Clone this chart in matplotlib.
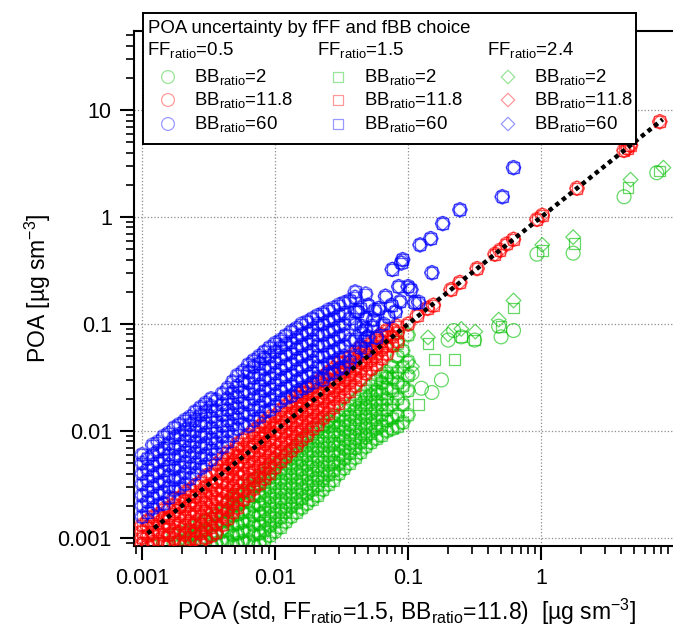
import matplotlib
matplotlib.use('Agg')
import matplotlib.pyplot as plt
from matplotlib.ticker import LogLocator, NullFormatter, FixedLocator, FixedFormatter

plt.rcParams['font.family'] = ['Liberation Sans', 'DejaVu Sans']
plt.rcParams['mathtext.fontset'] = 'custom'
plt.rcParams['mathtext.rm'] = 'Liberation Sans'
plt.rcParams['mathtext.it'] = 'Liberation Sans'
plt.rcParams['mathtext.default'] = 'regular'

# ---- data (x = standard POA, y = POA for each choice) ----
# BB_ratio = 60 (blue): dense band, one y list per x column
bb60_col_x = [0.0010, 0.0012, 0.00145, 0.00174, 0.0021, 0.0025, 0.0030, 0.0036, 0.0044, 0.0052, 0.0063,
              0.0076, 0.0091, 0.011, 0.0132, 0.0158, 0.019, 0.0229, 0.0275, 0.033, 0.040, 0.048]
bb60_col_y = [
    [0.00158, 0.0020, 0.0025, 0.0032, 0.0040, 0.0050, 0.0060],
    [0.0019, 0.0024, 0.0030, 0.0038, 0.0048, 0.0060, 0.0074],
    [0.0021, 0.0027, 0.0034, 0.0043, 0.0054, 0.0068, 0.0089],
    [0.0028, 0.0035, 0.0044, 0.0055, 0.0069, 0.0087, 0.0107],
    [0.0032, 0.0041, 0.0051, 0.0065, 0.0081, 0.0102, 0.0126],
    [0.0040, 0.0050, 0.0063, 0.0079, 0.0100, 0.0126, 0.0151],
    [0.0048, 0.0060, 0.0076, 0.0095, 0.0120, 0.0151, 0.0182],
    [0.0062, 0.0078, 0.0098, 0.0123, 0.0155, 0.0195],
    [0.0079, 0.0100, 0.0126, 0.0158, 0.0200, 0.0251],
    [0.0105, 0.0132, 0.0166, 0.0209, 0.0263, 0.0331],
    [0.0112, 0.0141, 0.0178, 0.0224, 0.0282, 0.0355, 0.0417],
    [0.0135, 0.0170, 0.0214, 0.0269, 0.0339, 0.0427, 0.0501],
    [0.0158, 0.0200, 0.0251, 0.0316, 0.0398, 0.0501, 0.0603],
    [0.0191, 0.0240, 0.0302, 0.0380, 0.0479, 0.0603, 0.0708],
    [0.0214, 0.0269, 0.0339, 0.0427, 0.0537, 0.0676, 0.0851],
    [0.0251, 0.0316, 0.0398, 0.0501, 0.0631, 0.0794, 0.100],
    [0.0282, 0.0355, 0.0447, 0.0562, 0.0708, 0.0891, 0.112],
    [0.0302, 0.0398, 0.0501, 0.0631, 0.0794, 0.100, 0.126],
    [0.0355, 0.0447, 0.0562, 0.0708, 0.0891, 0.112, 0.141],
    [0.0398, 0.0501, 0.0631, 0.0794, 0.100, 0.126, 0.158],
    [0.0501, 0.0708, 0.100, 0.132, 0.178, 0.200],
    [0.0562, 0.0891, 0.112, 0.191],
]
# BB_ratio = 60, in-between columns
bb60_mid_x = [0.0011, 0.00132, 0.00158, 0.0019, 0.00229, 0.00275, 0.0033, 0.0040, 0.0048, 0.00575, 0.0069,
              0.0083, 0.010, 0.012, 0.0145, 0.0174, 0.0209, 0.0251, 0.0302, 0.0363, 0.0437]
bb60_mid_y = [
    [0.00174, 0.00219, 0.00275, 0.00347, 0.00437, 0.0055],
    [0.00204, 0.00257, 0.00324, 0.00407, 0.00513, 0.00646, 0.0079],
    [0.0024, 0.0030, 0.0038, 0.0048, 0.0060, 0.0076, 0.0095],
    [0.00295, 0.0037, 0.0047, 0.0059, 0.0074, 0.0093, 0.0115],
    [0.0036, 0.0046, 0.0058, 0.0072, 0.0091, 0.0115, 0.0135],
    [0.0045, 0.0056, 0.0071, 0.0089, 0.0112, 0.0141, 0.0166],
    [0.0054, 0.0068, 0.0085, 0.0107, 0.0135, 0.0170, 0.0200],
    [0.0071, 0.0089, 0.0112, 0.0141, 0.0178, 0.0224],
    [0.0091, 0.0115, 0.0145, 0.0182, 0.0229, 0.0288],
    [0.0117, 0.0148, 0.0186, 0.0234, 0.0295, 0.0363],
    [0.0126, 0.0158, 0.0200, 0.0251, 0.0316, 0.0398, 0.0457],
    [0.0151, 0.0191, 0.0240, 0.0302, 0.0380, 0.0479, 0.0550],
    [0.0174, 0.0219, 0.0275, 0.0347, 0.0437, 0.0550, 0.0661],
    [0.0204, 0.0257, 0.0324, 0.0407, 0.0513, 0.0646, 0.0776],
    [0.0234, 0.0295, 0.0372, 0.0468, 0.0589, 0.0741, 0.0912],
    [0.0263, 0.0331, 0.0417, 0.0525, 0.0661, 0.0832, 0.105],
    [0.0316, 0.0398, 0.0501, 0.0631, 0.0794, 0.100, 0.120],
    [0.0339, 0.0427, 0.0537, 0.0676, 0.0851, 0.107, 0.135],
    [0.0380, 0.0479, 0.0603, 0.0759, 0.0955, 0.120, 0.151],
    [0.0447, 0.0708, 0.112, 0.166],
    [0.0603, 0.0832, 0.141],
]
# BB_ratio = 60, isolated high points
bb60_hi_x = [0.042, 0.045, 0.047, 0.050, 0.050, 0.0537, 0.055, 0.0562, 0.058, 0.060, 0.065, 0.0676, 0.0708,
             0.075, 0.076, 0.080, 0.085, 0.087, 0.089, 0.091, 0.100, 0.105, 0.112, 0.12, 0.123, 0.148,
             0.151, 0.182, 0.245, 0.51, 0.62]
bb60_hi_y = [0.13, 0.095, 0.070, 0.076, 0.15, 0.0955, 0.11, 0.135, 0.075, 0.14, 0.10, 0.182, 0.117,
             0.15, 0.324, 0.13, 0.224, 0.162, 0.372, 0.40, 0.224, 0.21, 0.158, 0.16, 0.55, 0.63,
             0.302, 0.87, 1.17, 1.55, 2.9]

# BB_ratio = 11.8 (red): band around the 1:1 line
bb118_col_x = [0.0010, 0.0012, 0.00145, 0.00174, 0.0021, 0.0025, 0.0030, 0.0036, 0.0044, 0.0052, 0.0063,
               0.0076, 0.0091, 0.011, 0.0132, 0.0158, 0.019, 0.0229, 0.0275, 0.033, 0.040, 0.048,
               0.0575, 0.069, 0.083]
bb118_col_y = [
    [0.00087, 0.0010, 0.00115, 0.00132],
    [0.00091, 0.0011, 0.00132, 0.00158],
    [0.00089, 0.00107, 0.00129, 0.00155, 0.00186],
    [0.00098, 0.00117, 0.00141, 0.0017, 0.00204, 0.00234],
    [0.00089, 0.00107, 0.00129, 0.00155, 0.00186, 0.00224, 0.00269],
    [0.00098, 0.00117, 0.00141, 0.0017, 0.00204, 0.00245, 0.00309],
    [0.0010, 0.0012, 0.00145, 0.00174, 0.00209, 0.0025, 0.0030, 0.0038],
    [0.00112, 0.00135, 0.00162, 0.00195, 0.00234, 0.00282, 0.00339, 0.00427, 0.0049],
    [0.00151, 0.00182, 0.00219, 0.00263, 0.00316, 0.0038, 0.00457, 0.0055, 0.0063],
    [0.0019, 0.00229, 0.00275, 0.00331, 0.0040, 0.0048, 0.00575, 0.0069, 0.0076],
    [0.0025, 0.0030, 0.0036, 0.0044, 0.0052, 0.0063, 0.0076, 0.0091],
    [0.0032, 0.0038, 0.0046, 0.0055, 0.0066, 0.0079, 0.0095, 0.011],
    [0.0040, 0.0048, 0.0058, 0.0069, 0.0083, 0.0100, 0.0120, 0.0135],
    [0.0052, 0.0063, 0.0076, 0.0091, 0.011, 0.0132, 0.0158],
    [0.0066, 0.0079, 0.0095, 0.0115, 0.0138, 0.0166, 0.019],
    [0.0083, 0.0100, 0.0120, 0.0145, 0.0174, 0.0209, 0.0229],
    [0.0105, 0.0126, 0.0151, 0.0182, 0.0219, 0.0263],
    [0.0132, 0.0158, 0.0191, 0.0229, 0.0275, 0.0324],
    [0.0166, 0.0200, 0.0240, 0.0288, 0.0347, 0.0389],
    [0.0209, 0.0251, 0.0302, 0.0363, 0.0437],
    [0.0263, 0.0316, 0.038, 0.0457, 0.0537],
    [0.0347, 0.0417, 0.0501, 0.0603],
    [0.0417, 0.0501, 0.0603, 0.0724],
    [0.0525, 0.0631, 0.0759, 0.0871],
    [0.0692, 0.0832, 0.0955],
]
bb118_mid_x = [0.0011, 0.00132, 0.00158, 0.0019, 0.00229, 0.00275, 0.0033, 0.0040, 0.0048, 0.00575, 0.0069,
               0.0083, 0.010, 0.012, 0.0145, 0.0174, 0.0209, 0.0251, 0.0302, 0.0363, 0.0437, 0.0525,
               0.0631, 0.0759]
bb118_mid_y = [
    [0.00087, 0.00105, 0.00126, 0.00145],
    [0.00095, 0.00115, 0.00138, 0.00166],
    [0.00089, 0.00107, 0.00129, 0.00155, 0.0019],
    [0.00093, 0.00112, 0.00135, 0.00162, 0.00195, 0.00234],
    [0.00098, 0.00117, 0.00141, 0.0017, 0.00204, 0.00245, 0.00282],
    [0.00091, 0.0011, 0.00132, 0.00158, 0.0019, 0.00229, 0.00275, 0.00331],
    [0.00105, 0.00126, 0.00151, 0.00182, 0.00219, 0.00263, 0.00316, 0.0040],
    [0.00132, 0.00158, 0.0019, 0.00229, 0.00275, 0.00331, 0.0040, 0.0048, 0.0055],
    [0.00174, 0.00209, 0.0025, 0.0030, 0.0036, 0.0044, 0.0052, 0.0063],
    [0.00229, 0.00275, 0.00331, 0.0040, 0.0048, 0.00575, 0.0069, 0.0083],
    [0.00288, 0.00347, 0.00417, 0.0050, 0.0060, 0.00724, 0.0087, 0.0102],
    [0.0036, 0.0044, 0.0052, 0.0063, 0.0076, 0.0091, 0.011, 0.0123],
    [0.00457, 0.0055, 0.0066, 0.0079, 0.0095, 0.0115, 0.0138],
    [0.00575, 0.0069, 0.0083, 0.010, 0.012, 0.0145, 0.0174],
    [0.00724, 0.0087, 0.0105, 0.0126, 0.0151, 0.0182, 0.0209],
    [0.0091, 0.011, 0.0132, 0.0158, 0.0191, 0.0229, 0.0251],
    [0.0115, 0.0138, 0.0166, 0.020, 0.024, 0.0288],
    [0.0145, 0.0174, 0.0209, 0.0251, 0.0302, 0.0355],
    [0.0182, 0.0219, 0.0263, 0.0316, 0.038, 0.0437],
    [0.0234, 0.0282, 0.0339, 0.0407, 0.049],
    [0.0302, 0.0363, 0.0437, 0.0525, 0.0603],
    [0.038, 0.0457, 0.055, 0.0661],
    [0.0479, 0.0575, 0.0692, 0.0794],
    [0.0631, 0.0759, 0.0891],
]
bb118_hi_x = [0.100, 0.117, 0.14, 0.155, 0.21, 0.245, 0.33, 0.45, 0.49, 0.55, 0.62, 0.93, 1.02, 1.86, 4.2, 4.5, 4.7, 7.8]
bb118_hi_y = [0.100, 0.12, 0.14, 0.15, 0.21, 0.245, 0.33, 0.45, 0.49, 0.56, 0.62, 0.95, 1.04, 1.86, 4.2, 4.4, 4.7, 7.8]

# BB_ratio = 2 (green): wide cloud below the 1:1 line
bb2_col_x = [0.0012, 0.00145, 0.00174, 0.0021, 0.0025, 0.0030, 0.0036, 0.0044, 0.0052, 0.0063, 0.0076,
             0.0091, 0.011, 0.0132, 0.0158, 0.019, 0.0229, 0.0275, 0.033, 0.040, 0.048, 0.0575, 0.069,
             0.083, 0.10]
bb2_col_y = [
    [0.00085],
    [0.00088],
    [0.00089, 0.00107],
    [0.00095, 0.00115],
    [0.00089, 0.00107, 0.00129],
    [0.00095, 0.00117, 0.00145],
    [0.00089, 0.0011, 0.00135, 0.00166],
    [0.00095, 0.00117, 0.00145, 0.00178, 0.00214],
    [0.00089, 0.0011, 0.00135, 0.00166, 0.00204, 0.0025],
    [0.00095, 0.00117, 0.00145, 0.00178, 0.00219, 0.00269, 0.00316],
    [0.00089, 0.0011, 0.00135, 0.00166, 0.00204, 0.0025, 0.00309, 0.00372],
    [0.00105, 0.00129, 0.00158, 0.00195, 0.0024, 0.00295, 0.00363, 0.00447],
    [0.00126, 0.00155, 0.0019, 0.00234, 0.00288, 0.00355, 0.00437, 0.00537],
    [0.00158, 0.00195, 0.0024, 0.00295, 0.00363, 0.00447, 0.0055, 0.0066],
    [0.0019, 0.00234, 0.00288, 0.00355, 0.00437, 0.00537, 0.0066, 0.0079],
    [0.00229, 0.00282, 0.00347, 0.00427, 0.0052, 0.0065, 0.0079, 0.0095],
    [0.00282, 0.00347, 0.00427, 0.0052, 0.0065, 0.0079, 0.0098, 0.0115],
    [0.00347, 0.00427, 0.0052, 0.0065, 0.0079, 0.0098, 0.0120, 0.0138],
    [0.00447, 0.0055, 0.0068, 0.0083, 0.0102, 0.0126, 0.0158],
    [0.0056, 0.0069, 0.0085, 0.0105, 0.0129, 0.0158, 0.0195],
    [0.0071, 0.0087, 0.0107, 0.0132, 0.0162, 0.020, 0.024],
    [0.0085, 0.0105, 0.0129, 0.0158, 0.0195, 0.024, 0.030],
    [0.0100, 0.0126, 0.0158, 0.020, 0.0251, 0.0316, 0.0355],
    [0.011, 0.0141, 0.020, 0.0282, 0.0355, 0.050, 0.066],
    [0.0141, 0.024, 0.0331, 0.0447, 0.079],
]
bb2_mid_x = [0.0019, 0.00229, 0.00275, 0.0033, 0.0040, 0.0048, 0.00575, 0.0069, 0.0083, 0.010, 0.012,
             0.0145, 0.0174, 0.0209, 0.0251, 0.0302, 0.0363, 0.0437, 0.0525, 0.0631, 0.0759, 0.0912]
bb2_mid_y = [
    [0.00093],
    [0.00087, 0.00105],
    [0.00093, 0.00115, 0.00138],
    [0.00087, 0.00107, 0.00132, 0.00151],
    [0.00093, 0.00115, 0.00141, 0.00174],
    [0.00087, 0.00107, 0.00132, 0.00162, 0.0020, 0.00234],
    [0.00093, 0.00115, 0.00141, 0.00174, 0.00214, 0.00263],
    [0.00087, 0.00107, 0.00132, 0.00162, 0.0020, 0.00245, 0.0030, 0.00347],
    [0.00095, 0.00117, 0.00145, 0.00178, 0.00219, 0.00269, 0.00331, 0.0040],
    [0.00115, 0.00141, 0.00174, 0.00214, 0.00263, 0.00324, 0.0040, 0.0049],
    [0.00141, 0.00174, 0.00214, 0.00263, 0.00324, 0.0040, 0.0049, 0.0060],
    [0.00174, 0.00214, 0.00263, 0.00324, 0.0040, 0.0049, 0.0060, 0.00724],
    [0.00209, 0.00257, 0.00316, 0.00389, 0.0048, 0.0059, 0.00724, 0.0087],
    [0.0025, 0.00309, 0.0038, 0.00468, 0.00575, 0.00708, 0.0087, 0.0105],
    [0.00316, 0.00389, 0.0048, 0.0059, 0.00724, 0.0089, 0.011, 0.0126],
    [0.0040, 0.0049, 0.0060, 0.0074, 0.0091, 0.0112, 0.0138],
    [0.0050, 0.0062, 0.0076, 0.0093, 0.0115, 0.0141, 0.0174],
    [0.0063, 0.0078, 0.0095, 0.0117, 0.0145, 0.0178, 0.0214],
    [0.0078, 0.0095, 0.0117, 0.0145, 0.0178, 0.0219, 0.0269],
    [0.0091, 0.0112, 0.0141, 0.0178, 0.0224, 0.0282, 0.0331],
    [0.0105, 0.0132, 0.0178, 0.024, 0.0316, 0.0398],
    [0.012, 0.0178, 0.0263, 0.0398, 0.0562],
]
# BB_ratio = 2, isolated high points, one list per FF_ratio
bb2_ff05_x = [0.107, 0.126, 0.151, 0.178, 0.20, 0.22, 0.251, 0.316, 0.479, 0.50, 0.62, 0.93, 1.74, 4.2, 7.4]
bb2_ff05_y = [0.0347, 0.0251, 0.0229, 0.030, 0.0708, 0.087, 0.0759, 0.0708, 0.0955, 0.0759, 0.087, 0.45, 0.46, 1.55, 2.6]
bb2_ff15_x = [0.12, 0.141, 0.158, 0.224, 0.251, 0.316, 0.50, 0.62, 1.02, 1.78, 4.5, 7.8]
bb2_ff15_y = [0.0178, 0.066, 0.0468, 0.0468, 0.0759, 0.0708, 0.0955, 0.141, 0.49, 0.57, 1.9, 2.7]
bb2_ff24_x = [0.107, 0.141, 0.20, 0.251, 0.32, 0.48, 0.62, 1.02, 1.74, 4.7, 8.3]
bb2_ff24_y = [0.040, 0.075, 0.080, 0.090, 0.085, 0.11, 0.166, 0.55, 0.65, 2.24, 2.9]

# 1:1 reference (standard case)
ref_x = [0.0011, 8.2]
ref_y = [0.0011, 8.2]

ff_labels = ['0.5', '1.5', '2.4']
bb_labels = ['2', '11.8', '60']

green = '#00bf00'
red = '#ff0000'
blue = '#0000ff'
bb_colors = [green, red, blue]
markers = ['o', 's', 'D']
msize = {'o': 100, 's': 60, 'D': 56}
mlw = 0.9

fig = plt.figure(figsize=(6.73, 6.34), dpi=100)
ax = fig.add_axes([134 / 673, 88 / 634, 539 / 673, 515 / 634])


def pts(xs, ys, m, color, z, a):
    ax.scatter(xs, ys, marker=m, s=msize[m], facecolors='none',
               edgecolors=color, linewidths=mlw, alpha=a, zorder=z)


def cols(xs, yss, color, z, a):
    # the three FF_ratio choices fall almost on top of each other in the dense clouds
    for x, ys in zip(xs, yss):
        for m in markers:
            pts([x] * len(ys), ys, m, color, z, a)


cols(bb2_col_x, bb2_col_y, green, 2, 0.45)
cols(bb2_mid_x, bb2_mid_y, green, 2, 0.45)
pts(bb2_ff05_x, bb2_ff05_y, 'o', green, 2, 0.6)
pts(bb2_ff15_x, bb2_ff15_y, 's', green, 2, 0.6)
pts(bb2_ff24_x, bb2_ff24_y, 'D', green, 2, 0.6)

cols(bb118_col_x, bb118_col_y, red, 3, 0.55)
cols(bb118_mid_x, bb118_mid_y, red, 3, 0.55)
for m in markers:
    pts(bb118_hi_x, bb118_hi_y, m, red, 3, 0.6)

cols(bb60_col_x, bb60_col_y, blue, 4, 0.5)
cols(bb60_mid_x, bb60_mid_y, blue, 4, 0.5)
for m in markers:
    pts(bb60_hi_x, bb60_hi_y, m, blue, 4, 0.6)

ax.plot(ref_x, ref_y, color='black', lw=3.2, linestyle=(0, (1, 0.9)), zorder=6)

ax.set_xscale('log')
ax.set_yscale('log')
ax.set_xlim(0.00087, 9.8)
ax.set_ylim(0.00084, 55)

dec_x = [0.001, 0.01, 0.1, 1]
dec_y = [0.001, 0.01, 0.1, 1, 10]
ax.xaxis.set_major_locator(FixedLocator(dec_x))
ax.xaxis.set_major_formatter(FixedFormatter(['0.001', '0.01', '0.1', '1']))
ax.yaxis.set_major_locator(FixedLocator(dec_y))
ax.yaxis.set_major_formatter(FixedFormatter(['0.001', '0.01', '0.1', '1', '10']))
for axis in (ax.xaxis, ax.yaxis):
    axis.set_minor_locator(LogLocator(base=10, subs=range(2, 10), numticks=20))
    axis.set_minor_formatter(NullFormatter())

ax.tick_params(which='major', length=10, width=1.5, labelsize=15.5, pad=6, direction='out')
ax.tick_params(which='minor', length=5.5, width=1.2, direction='out')
ax.tick_params(top=False, right=False)

ax.spines['right'].set_visible(False)
for s in ['left', 'bottom', 'top']:
    ax.spines[s].set_linewidth(1.5)

ax.grid(True, which='major', linestyle=':', color='#8c8c8c', lw=0.9)
ax.set_axisbelow(True)

ax.set_xlabel(r'POA (std, FF$_{ratio}$=1.5, BB$_{ratio}$=11.8)  [µg sm$^{-3}$]', fontsize=16.5)
ax.xaxis.set_label_coords(0.505, -0.098)
ax.set_ylabel(r'POA [µg sm$^{-3}$]', fontsize=16.5)
ax.yaxis.set_label_coords(-0.15, 0.5)

# legend box drawn in its own axes, coordinates in pixels of the picture
lax = fig.add_axes([143 / 673, 490 / 634, 493 / 673, 131 / 634])
lax.set_zorder(10)
lax.set_xlim(143, 636)
lax.set_ylim(144, 13)
lax.set_xticks([])
lax.set_yticks([])
for s in lax.spines.values():
    s.set_linewidth(1.4)
lax.text(148, 28, 'POA uncertainty by fFF and fBB choice', va='center', fontsize=13.4)
head_x = [147, 317, 487]
mark_x = [168, 338, 508]
text_x = [194, 364, 534]
row_y = [77, 100, 124]
for i in range(3):
    lax.text(head_x[i], 50, 'FF$_{ratio}$=' + ff_labels[i], va='center', fontsize=13.4)
    for j in range(3):
        m = markers[i]
        lax.scatter([mark_x[i]], [row_y[j]], marker=m, s=msize[m] * 0.85, facecolors='none',
                    edgecolors=bb_colors[j], linewidths=mlw, alpha=0.4)
        lax.text(text_x[i], row_y[j], 'BB$_{ratio}$=' + bb_labels[j], va='center', fontsize=13.4)

fig.savefig('out.png', dpi=100)
